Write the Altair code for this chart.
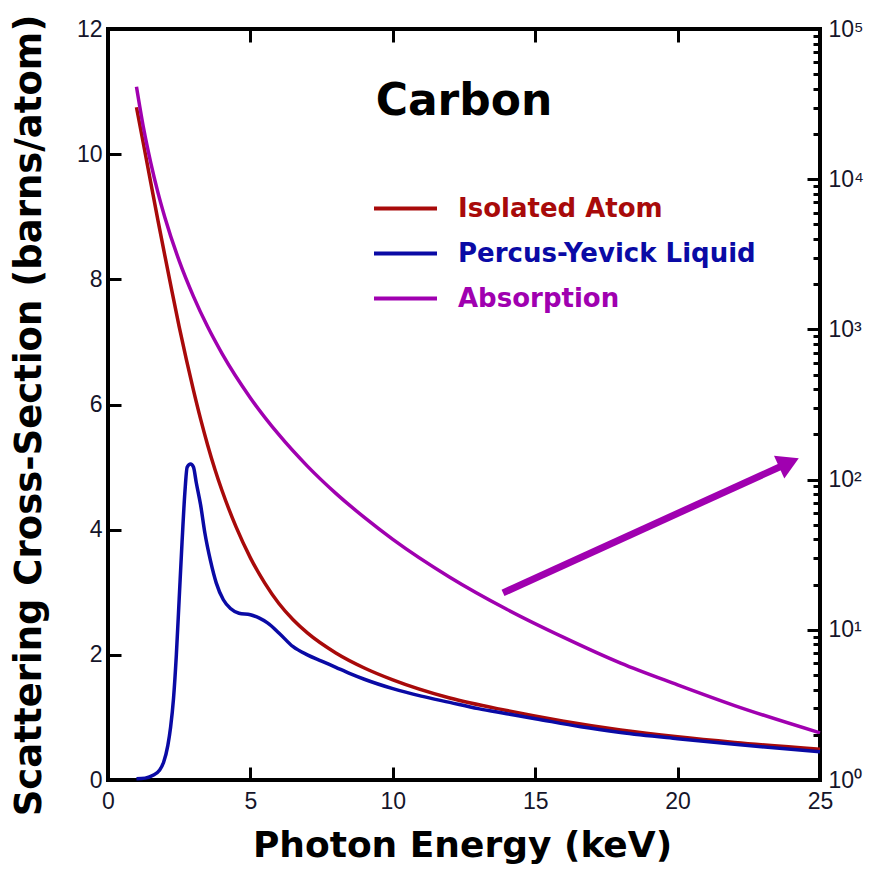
import altair as alt
import pandas as pd

# Isolated-atom scattering cross-section (barns/atom) vs photon energy (keV)
atom_energy = [1.0, 1.25, 1.5, 1.75, 2.0, 2.25, 2.5, 2.75, 3.0, 3.25, 3.5, 3.75, 4.0, 4.5,
               5.0, 5.5, 6.0, 6.5, 7.0, 8.0, 9.0, 10.0, 12.0, 14.0, 16.0, 18.0, 20.0, 22.0,
               25.0]
atom_sigma = [10.75, 10.15, 9.55, 8.95, 8.37, 7.8, 7.24, 6.72, 6.23, 5.77, 5.35, 4.97, 4.63,
              4.04, 3.55, 3.15, 2.82, 2.56, 2.35, 2.03, 1.79, 1.6, 1.31, 1.11, 0.94, 0.8,
              0.69, 0.6, 0.49]

# Percus-Yevick liquid scattering cross-section (barns/atom)
liquid_energy = [1.0, 1.3, 1.6, 1.8, 1.95, 2.1, 2.2, 2.3, 2.4, 2.5, 2.6, 2.7, 2.78, 2.9,
                 3.0, 3.1, 3.25, 3.4, 3.6, 3.8, 4.05, 4.3, 4.6, 5.0, 5.3, 5.6, 6.0, 6.5,
                 7.0, 7.5, 8.0, 8.5, 9.0, 10.0, 11.0, 12.0, 13.0, 14.0, 15.0, 16.6, 18.0,
                 20.0, 22.0, 25.0]
liquid_sigma = [0.02, 0.03, 0.08, 0.15, 0.28, 0.55, 0.85, 1.3, 2.0, 2.9, 3.8, 4.6, 5.0, 5.05,
                5.0, 4.75, 4.4, 3.95, 3.5, 3.15, 2.88, 2.74, 2.665, 2.64, 2.59, 2.51, 2.35,
                2.13, 2.0, 1.9, 1.8, 1.7, 1.61, 1.46, 1.34, 1.24, 1.14, 1.06, 0.98, 0.85,
                0.76, 0.66, 0.57, 0.45]

# Photoabsorption cross-section (barns/atom), read on the logarithmic right axis
absorption_energy = [1.0, 1.25, 1.5, 1.75, 2.0, 2.5, 3.0, 3.5, 4.0, 5.0, 6.0, 7.0, 8.0,
                     9.0, 10.0, 12.0, 14.0, 16.0, 18.0, 20.0, 22.0, 25.0]
absorption_sigma = [41300, 21800, 12900, 8200, 5540, 2860, 1660, 1040, 693, 350, 199, 123,
                    81, 56, 40, 22.4, 13.7, 8.9, 6.0, 4.3, 3.13, 2.06]

# Arrow pointing from the absorption curve towards its (right-hand) axis
arrow_energy = [13.87, 23.91]
arrow_sigma = [2.99, 5.07]

series_names = ["Isolated Atom", "Percus-Yevick Liquid", "Absorption"]
series_colors = ["#a80a0a", "#0a0aa5", "#a000b0"]

energy_ticks = [0, 5, 10, 15, 20, 25]
sigma_ticks = [0, 2, 4, 6, 8, 10, 12]
decade_ticks = [1, 10, 100, 1000, 10000, 100000]
log_ticks = sorted(decade_ticks + [m * 10 ** d for d in range(5) for m in range(2, 10)])

W, H = 712, 751
MAJOR, MINOR = 13, 7          # inward tick lengths in pixels
LABEL_FONT = "Liberation Sans"
TITLE_FONT = "DejaVu Sans"
INK = "#15152a"
PURPLE = series_colors[2]

scattering = pd.DataFrame({
    "energy": atom_energy + liquid_energy,
    "sigma": atom_sigma + liquid_sigma,
    "series": [series_names[0]] * len(atom_energy) + [series_names[1]] * len(liquid_energy),
})
absorption = pd.DataFrame({
    "energy": absorption_energy,
    "sigma": absorption_sigma,
    "series": [series_names[2]] * len(absorption_energy),
})
arrow = pd.DataFrame({"energy": arrow_energy, "sigma": arrow_sigma})

x_scale = alt.Scale(domain=[0, 25], nice=False, zero=False)
left_scale = alt.Scale(domain=[0, 12], nice=False, zero=False)
right_scale = alt.Scale(type="log", domain=[1, 100000], nice=False)

# ticks point into the plot: a negative tick length flips them inwards;
# the axes are drawn above the plot contents
tick_style = dict(ticks=True, tickWidth=3, tickColor="black", domain=False, grid=False,
                  zindex=1)
inward_major = {"expr": f"-{MAJOR}"}

x_axis = alt.Axis(
    orient="bottom", values=energy_ticks, tickSize=inward_major, **tick_style,
    labelFont=LABEL_FONT, labelFontSize=23, labelColor=INK, labelPadding=10 + MAJOR,
    labelFlush=False, labelOverlap=False,
    title="Photon Energy (keV)", titleFont=TITLE_FONT, titleFontSize=36,
    titleFontWeight="bold", titleColor="black", titleX=354, titleY=76,
    titleAlign="center", titleBaseline="alphabetic")
top_axis = alt.Axis(
    orient="top", values=energy_ticks, tickSize=inward_major, **tick_style,
    labels=False, title=None)
left_axis = alt.Axis(
    orient="left", values=sigma_ticks, tickSize=inward_major, **tick_style,
    labelFont=LABEL_FONT, labelFontSize=23, labelColor=INK, labelPadding=6 + MAJOR,
    labelFlush=False, labelOverlap=False,
    title="Scattering Cross-Section (barns/atom)", titleFont=TITLE_FONT,
    titleFontSize=37, titleFontWeight="bold", titleColor="black",
    titleX=-68, titleY=386, titleAngle=270, titleAlign="center",
    titleBaseline="alphabetic")
is_decade = "abs(log(datum.value) / LN10 - round(log(datum.value) / LN10)) < 0.001"
exponents = "['⁰','¹','²','³','⁴','⁵']"
right_axis = alt.Axis(
    orient="right", values=log_ticks, **tick_style,
    tickSize={"expr": f"({is_decade}) ? -{MAJOR} : -{MINOR}"},
    labelFont=LABEL_FONT, labelFontSize=23, labelColor=INK, labelPadding=8 + MAJOR,
    labelFlush=False, labelOverlap=False, title=None,
    labelExpr=f"({is_decade}) ? '10' + {exponents}[round(log(datum.value) / LN10)] : ''")

Y_LEFT = alt.Y("sigma:Q", scale=left_scale, axis=left_axis)

label_color = "'" + series_colors[2] + "'"
for name, col in reversed(list(zip(series_names[:2], series_colors[:2]))):
    label_color = f"datum.value === '{name}' ? '{col}' : ({label_color})"

color = alt.Color(
    "series:N",
    scale=alt.Scale(domain=series_names, range=series_colors),
    legend=alt.Legend(
        title=None, orient="none", legendX=264, legendY=167, padding=0,
        symbolType="stroke", symbolSize=3969, symbolStrokeWidth=4,
        clipHeight=25, rowPadding=18, labelOffset=19, labelLimit=400,
        labelFont=TITLE_FONT, labelFontSize=26, labelFontWeight="bold",
        labelColor={"expr": label_color},
    ),
)

# ---- left (linear) scale: scattering curves and the arrow ----
curves = alt.Chart(scattering).mark_line(strokeWidth=3.5, interpolate="monotone").encode(
    x=alt.X("energy:Q", scale=x_scale, axis=x_axis), y=Y_LEFT, color=color,
)
arrow_shaft = alt.Chart(arrow).mark_line(color=PURPLE, strokeWidth=7).encode(
    x=alt.X("energy:Q", scale=x_scale, axis=None), y=Y_LEFT,
)
arrow_head = alt.Chart(arrow.tail(1)).mark_point(
    shape="triangle-up", size=620, angle=65.5, filled=True, color=PURPLE,
    opacity=1, strokeWidth=0,
).encode(
    x=alt.X("energy:Q", scale=x_scale, axis=top_axis), y=Y_LEFT,
)
left_part = alt.layer(curves, arrow_shaft, arrow_head).resolve_axis(x="independent")

# ---- right (logarithmic) scale: absorption ----
absorption_line = alt.Chart(absorption).mark_line(strokeWidth=3.5, interpolate="monotone").encode(
    x=alt.X("energy:Q", scale=x_scale, axis=None),
    y=alt.Y("sigma:Q", scale=right_scale, axis=right_axis),
    color=color,
)

chart = (
    alt.layer(left_part, absorption_line)
    .resolve_scale(y="independent")
    .resolve_axis(x="independent", y="independent")
    .properties(
        width=W, height=H,
        padding={"left": 108, "top": 29, "right": 51, "bottom": 95},
        autosize=alt.AutoSizeParams(type="none"),
        background="white",
        title=alt.TitleParams(
            text="Carbon", font=TITLE_FONT, fontSize=44, fontWeight="bold",
            color="black", anchor="middle", frame="group", baseline="alphabetic",
            offset=0, dy=145),
    )
    .configure_view(stroke="black", strokeWidth=4)
)

chart.save("out.html", embed_options={"renderer": "svg", "actions": False})
